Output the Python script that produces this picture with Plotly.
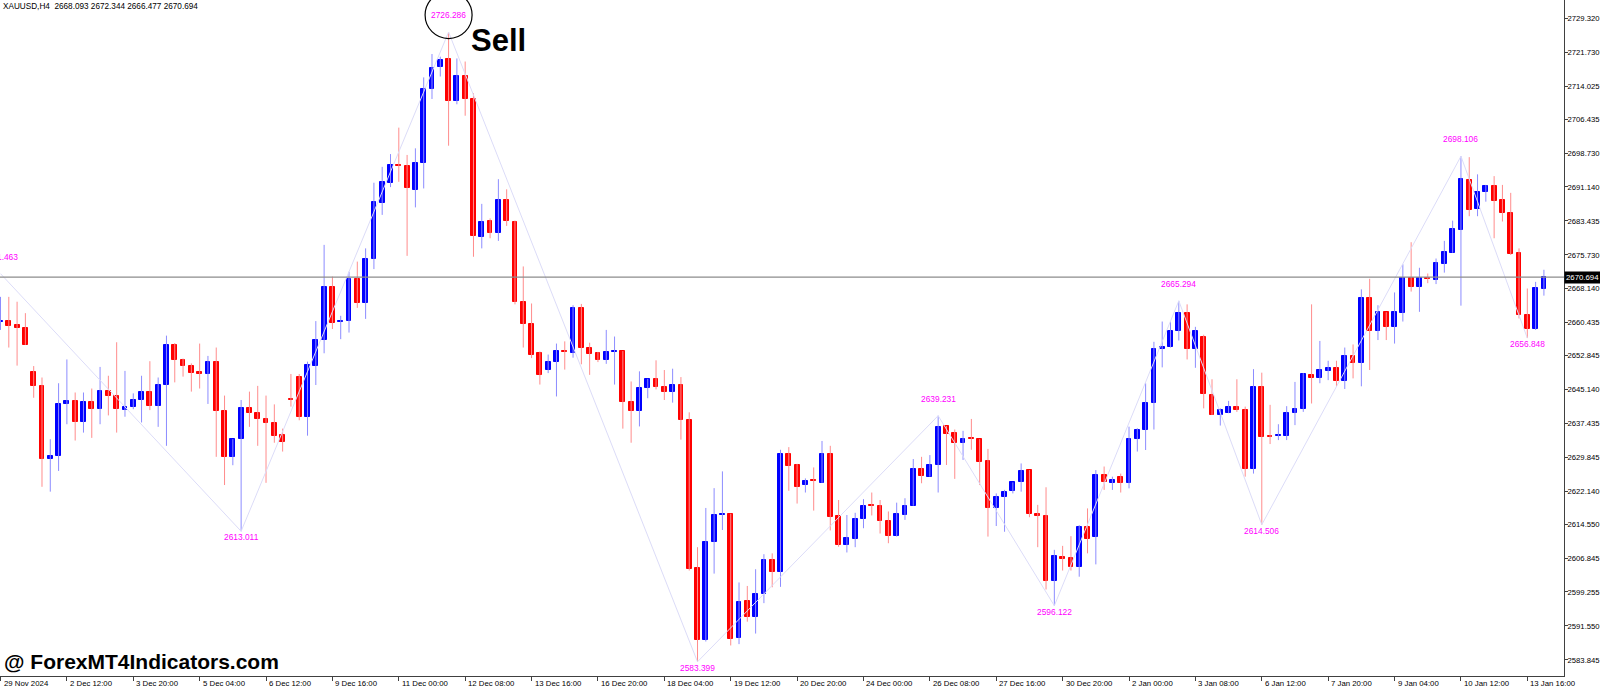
import plotly.graph_objects as go

# ---------------- data (XAUUSD H4 candles) ----------------
symbol = "XAUUSD,H4"
opens = [2660.5, 2660.8, 2659.8, 2659.1, 2649.2, 2646.0, 2629.5, 2630.1, 2642.0, 2642.6,
         2637.7, 2642.4, 2640.7, 2644.8, 2643.8, 2640.5, 2641.1, 2642.9, 2644.7, 2641.5,
         2646.3, 2655.3, 2651.9, 2650.6, 2649.1, 2648.8, 2651.5, 2640.4, 2629.9, 2633.9,
         2640.9, 2639.8, 2638.6, 2637.6, 2634.8, 2643.1, 2648.1, 2639.0, 2650.6, 2656.4,
         2668.5, 2660.5, 2660.7, 2670.2, 2664.7, 2674.7, 2687.6, 2692.1, 2696.2, 2695.8,
         2690.4, 2696.6, 2713.4, 2718.3, 2720.1, 2710.6, 2716.3, 2711.2, 2679.7, 2683.5,
         2680.8, 2688.2, 2683.3, 2665.1, 2660.0, 2653.4, 2649.5, 2651.4, 2654.0, 2653.5,
         2663.6, 2654.6, 2653.4, 2651.8, 2653.7, 2653.9, 2642.3, 2640.2, 2645.5, 2647.6,
         2645.7, 2644.6, 2646.2, 2638.2, 2604.7, 2588.4, 2610.5, 2616.7, 2617.0, 2588.7,
         2597.2, 2593.6, 2598.7, 2606.5, 2603.8, 2630.5, 2628.0, 2623.5, 2624.6, 2624.0,
         2630.5, 2616.5, 2609.9, 2611.3, 2615.7, 2618.9, 2618.8, 2615.3, 2611.9, 2616.8,
         2618.8, 2627.1, 2625.4, 2628.05, 2636.9, 2635.2, 2633.0, 2634.1, 2633.9, 2628.96,
         2618.4, 2620.85, 2622.1, 2624.3, 2626.9, 2616.9, 2616.5, 2601.7, 2607.2, 2606.9,
         2604.8, 2614.06, 2611.8, 2625.8, 2623.9, 2625.4, 2623.9, 2633.9, 2636.1, 2642.2,
         2654.3, 2654.9, 2658.5, 2662.5, 2654.3, 2657.2, 2644.0, 2639.5, 2639.8, 2641.3,
         2640.5, 2627.1, 2645.8, 2634.7, 2634.6, 2634.6, 2639.8, 2640.7, 2648.5, 2647.7,
         2649.4, 2650.0, 2647.0, 2652.8, 2651.1, 2666.0, 2658.5, 2662.7, 2659.4, 2662.5,
         2670.4, 2668.4, 2670.5, 2670.0, 2673.7, 2676.2, 2681.4, 2692.7, 2686.1, 2689.9,
         2691.4, 2688.2, 2685.3, 2676.1, 2662.1, 2658.9, 2668.093]
highs = [2666.2, 2666.2, 2665.1, 2662.5, 2650.5, 2647.9, 2633.9, 2646.6, 2652.0, 2644.5,
         2644.5, 2645.4, 2650.3, 2648.3, 2655.9, 2649.4, 2644.3, 2648.3, 2651.6, 2647.9,
         2657.4, 2655.7, 2652.2, 2651.1, 2655.6, 2652.8, 2654.7, 2643.8, 2633.9, 2642.8,
         2644.7, 2646.0, 2643.8, 2641.8, 2636.3, 2648.7, 2648.7, 2651.5, 2660.7, 2678.0,
         2670.8, 2661.9, 2671.9, 2674.2, 2677.2, 2692.1, 2695.7, 2698.6, 2704.6, 2698.4,
         2699.9, 2716.0, 2721.3, 2720.7, 2726.286, 2720.3, 2719.6, 2712.4, 2687.3, 2684.0,
         2692.9, 2690.6, 2683.5, 2673.1, 2664.7, 2653.8, 2653.1, 2655.6, 2656.1, 2664.3,
         2664.6, 2655.8, 2653.7, 2658.7, 2657.2, 2653.9, 2647.0, 2649.3, 2647.6, 2651.8,
         2649.6, 2649.9, 2648.0, 2640.0, 2609.4, 2618.3, 2622.8, 2626.6, 2617.0, 2601.4,
         2600.6, 2604.4, 2607.8, 2608.0, 2631.5, 2632.1, 2628.3, 2625.0, 2627.5, 2633.5,
         2632.4, 2620.1, 2616.7, 2617.2, 2620.3, 2621.8, 2620.1, 2617.5, 2619.5, 2620.5,
         2629.4, 2629.9, 2630.3, 2639.231, 2636.9, 2636.1, 2635.8, 2638.5, 2633.9, 2631.7,
         2621.6, 2622.4, 2624.1, 2628.4, 2626.9, 2619.0, 2623.0, 2608.8, 2609.7, 2611.9,
         2614.4, 2618.2, 2626.9, 2627.7, 2625.4, 2626.1, 2636.75, 2636.4, 2646.6, 2656.0,
         2660.6, 2660.6, 2665.294, 2664.5, 2659.4, 2657.6, 2647.5, 2640.9, 2642.6, 2647.5,
         2641.3, 2649.8, 2649.0, 2641.7, 2637.3, 2641.4, 2646.9, 2648.9, 2664.5, 2656.2,
         2651.7, 2651.7, 2654.7, 2655.4, 2667.9, 2670.3, 2664.3, 2662.7, 2667.2, 2673.6,
         2678.6, 2672.8, 2671.5, 2674.9, 2678.9, 2683.5, 2698.106, 2697.9, 2694.0, 2691.6,
         2693.6, 2691.6, 2689.8, 2677.2, 2668.1, 2669.6, 2672.344]
lows = [2658.7, 2654.7, 2650.6, 2655.3, 2643.3, 2623.1, 2622.0, 2626.7, 2637.3, 2633.6,
        2635.4, 2634.2, 2637.3, 2639.3, 2635.4, 2639.0, 2640.7, 2637.7, 2640.5, 2636.7,
        2632.4, 2646.8, 2648.1, 2644.7, 2645.4, 2641.9, 2629.9, 2623.5, 2628.0, 2613.011,
        2636.7, 2632.4, 2624.0, 2633.1, 2631.1, 2641.3, 2638.2, 2634.7, 2646.2, 2653.4,
        2658.9, 2656.6, 2658.1, 2663.7, 2661.2, 2672.5, 2684.8, 2691.1, 2692.3, 2675.5,
        2686.5, 2690.8, 2711.1, 2716.2, 2700.5, 2709.9, 2707.3, 2675.3, 2677.2, 2679.5,
        2678.9, 2682.3, 2664.5, 2654.7, 2652.3, 2646.3, 2648.9, 2643.6, 2649.7, 2652.4,
        2650.9, 2648.5, 2651.4, 2651.0, 2646.3, 2636.3, 2633.1, 2636.8, 2643.2, 2645.2,
        2642.8, 2642.2, 2633.8, 2604.1, 2583.399, 2588.0, 2603.4, 2613.3, 2587.1, 2587.4,
        2592.5, 2589.8, 2596.7, 2600.3, 2600.4, 2622.2, 2619.3, 2621.8, 2617.7, 2624.0,
        2613.2, 2609.5, 2608.2, 2609.4, 2613.7, 2616.6, 2612.5, 2610.3, 2611.8, 2615.6,
        2618.8, 2623.9, 2625.4, 2621.8, 2628.05, 2624.9, 2629.2, 2631.5, 2623.5, 2611.8,
        2614.2, 2612.9, 2621.6, 2622.0, 2616.2, 2609.4, 2599.8, 2596.122, 2604.1, 2604.1,
        2602.7, 2608.0, 2605.5, 2622.4, 2622.4, 2621.8, 2622.75, 2631.1, 2631.45, 2636.1,
        2650.2, 2654.7, 2656.3, 2652.0, 2650.1, 2640.9, 2639.4, 2637.0, 2639.8, 2640.1,
        2625.4, 2626.1, 2614.506, 2632.8, 2633.7, 2633.7, 2637.1, 2640.1, 2642.0, 2646.6,
        2647.3, 2645.8, 2645.3, 2647.7, 2645.9, 2649.6, 2656.4, 2656.4, 2655.6, 2660.6,
        2667.4, 2662.8, 2669.3, 2669.1, 2671.7, 2676.2, 2664.2, 2684.5, 2684.5, 2687.8,
        2679.5, 2683.3, 2675.7, 2661.3, 2656.848, 2658.7, 2666.477]
closes = [2660.8, 2659.7, 2659.1, 2655.3, 2646.0, 2629.5, 2630.1, 2642.0, 2642.6, 2637.7,
          2642.4, 2640.7, 2644.8, 2643.8, 2640.7, 2641.1, 2642.9, 2644.7, 2641.5, 2646.3,
          2655.3, 2651.9, 2650.5, 2649.0, 2648.8, 2651.5, 2640.4, 2629.9, 2633.9, 2640.9,
          2639.8, 2638.6, 2637.6, 2634.7, 2633.2, 2642.8, 2639.0, 2650.7, 2656.4, 2668.5,
          2660.3, 2660.7, 2670.2, 2664.7, 2674.7, 2687.8, 2692.3, 2696.1, 2696.0, 2690.8,
          2696.6, 2713.3, 2718.1, 2719.9, 2710.6, 2716.3, 2711.0, 2679.9, 2683.3, 2680.8,
          2688.2, 2683.4, 2665.1, 2660.0, 2653.0, 2648.4, 2651.5, 2653.9, 2653.7, 2663.6,
          2654.6, 2653.3, 2651.8, 2653.8, 2653.9, 2642.3, 2640.2, 2645.6, 2647.6, 2645.7,
          2644.6, 2646.2, 2638.2, 2604.5, 2588.4, 2610.5, 2616.6, 2616.9, 2588.6, 2597.0,
          2593.6, 2598.7, 2606.5, 2603.8, 2630.5, 2627.9, 2623.0, 2624.5, 2624.4, 2630.5,
          2616.3, 2609.9, 2611.4, 2615.7, 2618.8, 2618.7, 2615.3, 2611.9, 2616.9, 2618.8,
          2627.1, 2625.6, 2628.05, 2636.75, 2635.1, 2633.0, 2634.0, 2633.9, 2628.8, 2618.2,
          2620.85, 2621.85, 2624.1, 2626.8, 2616.9, 2616.5, 2601.7, 2607.4, 2606.8, 2604.8,
          2614.06, 2611.2, 2625.8, 2624.1, 2624.65, 2623.9, 2633.9, 2636.1, 2642.2, 2654.4,
          2654.9, 2658.5, 2662.5, 2654.3, 2658.5, 2644.1, 2639.5, 2640.5, 2641.3, 2640.5,
          2627.1, 2645.8, 2634.5, 2634.5, 2634.9, 2639.8, 2640.7, 2648.6, 2647.7, 2649.6,
          2650.0, 2647.0, 2652.8, 2651.1, 2666.0, 2658.5, 2662.7, 2659.4, 2662.7, 2670.4,
          2668.4, 2670.4, 2670.3, 2673.8, 2676.3, 2681.5, 2692.9, 2685.9, 2689.9, 2691.4,
          2688.0, 2685.3, 2675.9, 2662.1, 2658.9, 2668.1, 2670.694]

# zigzag pivots (candle index, price, kind)
zz_idx = [0, 29, 54, 84, 113, 127, 142, 152, 176, 184]
zz_val = [2671.463, 2613.011, 2726.286, 2583.399, 2639.231, 2596.122, 2665.294,
          2614.506, 2698.106, 2656.848]
zz_kind = ["peak", "trough", "peak", "trough", "peak", "trough", "peak", "trough",
           "peak", "trough"]

# time axis labels and the candle index each one marks
date_labels = ["29 Nov 2024", "2 Dec 12:00", "3 Dec 20:00", "5 Dec 04:00", "6 Dec 12:00",
               "9 Dec 16:00", "11 Dec 00:00", "12 Dec 08:00", "13 Dec 16:00", "16 Dec 20:00",
               "18 Dec 04:00", "19 Dec 12:00", "20 Dec 20:00", "24 Dec 00:00", "26 Dec 08:00",
               "27 Dec 16:00", "30 Dec 20:00", "2 Jan 00:00", "3 Jan 08:00", "6 Jan 12:00",
               "7 Jan 20:00", "9 Jan 04:00", "10 Jan 12:00", "13 Jan 16:00"]
date_idx = [0, 8, 16, 24, 32, 40, 48, 56, 64, 72, 80, 88, 96, 104, 112, 120, 128, 136,
            144, 152, 160, 168, 176, 184]

price_ticks = [2729.320, 2721.730, 2714.025, 2706.435, 2698.730, 2691.140, 2683.435,
               2675.730, 2668.140, 2660.435, 2652.845, 2645.140, 2637.435, 2629.845,
               2622.140, 2614.550, 2606.845, 2599.255, 2591.550, 2583.845]

signal_text = "Sell"
signal_idx = 54
watermark = "@ ForexMT4Indicators.com"

# ---------------- figure ----------------
BULL, BEAR = "#0000ff", "#ff0000"
BULL_W, BEAR_W = "#8c8cff", "#ff8c8c"
SMALL = "Liberation Sans, Arial, sans-serif"

n = len(opens)
idx = list(range(n))
bull = [closes[i] >= opens[i] for i in idx]

fig = go.Figure()

# wicks
for is_bull, col in ((True, BULL_W), (False, BEAR_W)):
    xs, ys = [], []
    for i in idx:
        if bull[i] == is_bull:
            xs += [i, i, None]
            ys += [lows[i], highs[i], None]
    fig.add_trace(go.Scatter(x=xs, y=ys, mode="lines", line=dict(color=col, width=1),
                             hoverinfo="skip", showlegend=False))

# bodies
body_base = [min(opens[i], closes[i]) for i in idx]
body_h = [abs(closes[i] - opens[i]) for i in idx]
body_col = [BULL if b else BEAR for b in bull]
fig.add_trace(go.Bar(x=idx, y=body_h, base=body_base, width=0.58,
                     marker=dict(color=body_col, line=dict(color=body_col, width=1)),
                     showlegend=False, hoverinfo="skip"))

# zigzag
fig.add_trace(go.Scatter(x=zz_idx, y=zz_val, mode="lines",
                         line=dict(color="#dcdcf8", width=1),
                         showlegend=False, hoverinfo="skip"))

annotations = []
for i, v, k in zip(zz_idx, zz_val, zz_kind):
    annotations.append(dict(x=i, y=v, xref="x", yref="y", text=f"{v:.3f}",
                            showarrow=False, font=dict(family=SMALL, size=8.4, color="#ff00ff"),
                            yanchor="bottom" if k == "peak" else "top",
                            yshift=10 if k == "peak" else 1))

for lab, i in zip(date_labels, date_idx):
    annotations.append(dict(x=i, y=0, xref="x", yref="paper", text=lab, showarrow=False,
                            xanchor="left", yanchor="top", xshift=1, yshift=-1,
                            font=dict(family=SMALL, size=7.8, color="#000000")))

# header
annotations.append(dict(x=0, y=1, xref="paper", yref="paper", xanchor="left", yanchor="top",
                        xshift=1, yshift=0, showarrow=False,
                        text=f"{symbol}  {opens[-1]:.3f} {highs[-1]:.3f} {lows[-1]:.3f} {closes[-1]:.3f}",
                        font=dict(family=SMALL, size=8.2, color="#000000")))
# current price box
annotations.append(dict(x=1, y=closes[-1], xref="paper", yref="y", xanchor="left",
                        yanchor="middle", xshift=0, showarrow=False, text=f"{closes[-1]:.3f}",
                        bgcolor="#000000", borderpad=1,
                        font=dict(family=SMALL, size=7.8, color="#ffffff")))
# signal text
annotations.append(dict(x=signal_idx, y=highs[signal_idx], xref="x", yref="y",
                        xanchor="left", yanchor="middle", xshift=20, yshift=-8,
                        showarrow=False, text=f"<b>{signal_text}</b>",
                        font=dict(family=SMALL, size=31, color="#000000")))
# watermark
annotations.append(dict(x=0, y=0, xref="paper", yref="paper", xanchor="left",
                        yanchor="bottom", xshift=2, yshift=1, showarrow=False,
                        text=f"<b>{watermark}</b>",
                        font=dict(family=SMALL, size=21, color="#000000")))

shapes = [
    dict(type="line", xref="paper", x0=0, x1=1, yref="y", y0=closes[-1], y1=closes[-1],
         line=dict(color="#8c8c8c", width=1.2)),
    dict(type="circle", xref="x", yref="y", xsizemode="pixel", ysizemode="pixel",
         xanchor=signal_idx, yanchor=highs[signal_idx], x0=-23.5, x1=23.5, y0=-6.5, y1=40.5,
         line=dict(color="#000000", width=1.2)),
]

fig.update_layout(
    width=1600, height=689,
    margin=dict(l=0, r=36, t=0, b=13, autoexpand=False),
    paper_bgcolor="#ffffff", plot_bgcolor="#ffffff",
    bargap=0, showlegend=False,
    annotations=annotations, shapes=shapes,
    xaxis=dict(range=[-0.06, 188.42], showgrid=False, zeroline=False,
               tickmode="array", tickvals=date_idx, ticktext=[""] * len(date_idx),
               ticks="outside", ticklen=4, tickcolor="#404040",
               showline=True, linecolor="#404040", linewidth=1, fixedrange=True),
    yaxis=dict(range=[2580.17, 2733.56], side="right", showgrid=False, zeroline=False,
               tickmode="array", tickvals=price_ticks,
               ticktext=[f"{p:.3f}" for p in price_ticks],
               ticks="outside", ticklen=3, tickcolor="#404040",
               ticklabelstandoff=-2,
               tickfont=dict(family=SMALL, size=7.7, color="#000000"),
               showline=True, linecolor="#404040", linewidth=1, mirror=True,
               automargin=False, fixedrange=True),
)

fig.write_html(
    "out.html",
    config={"displayModeBar": False},
    post_script="document.body.style.margin='0';document.body.style.overflow='hidden';"
                "document.documentElement.style.overflow='hidden';",
)
